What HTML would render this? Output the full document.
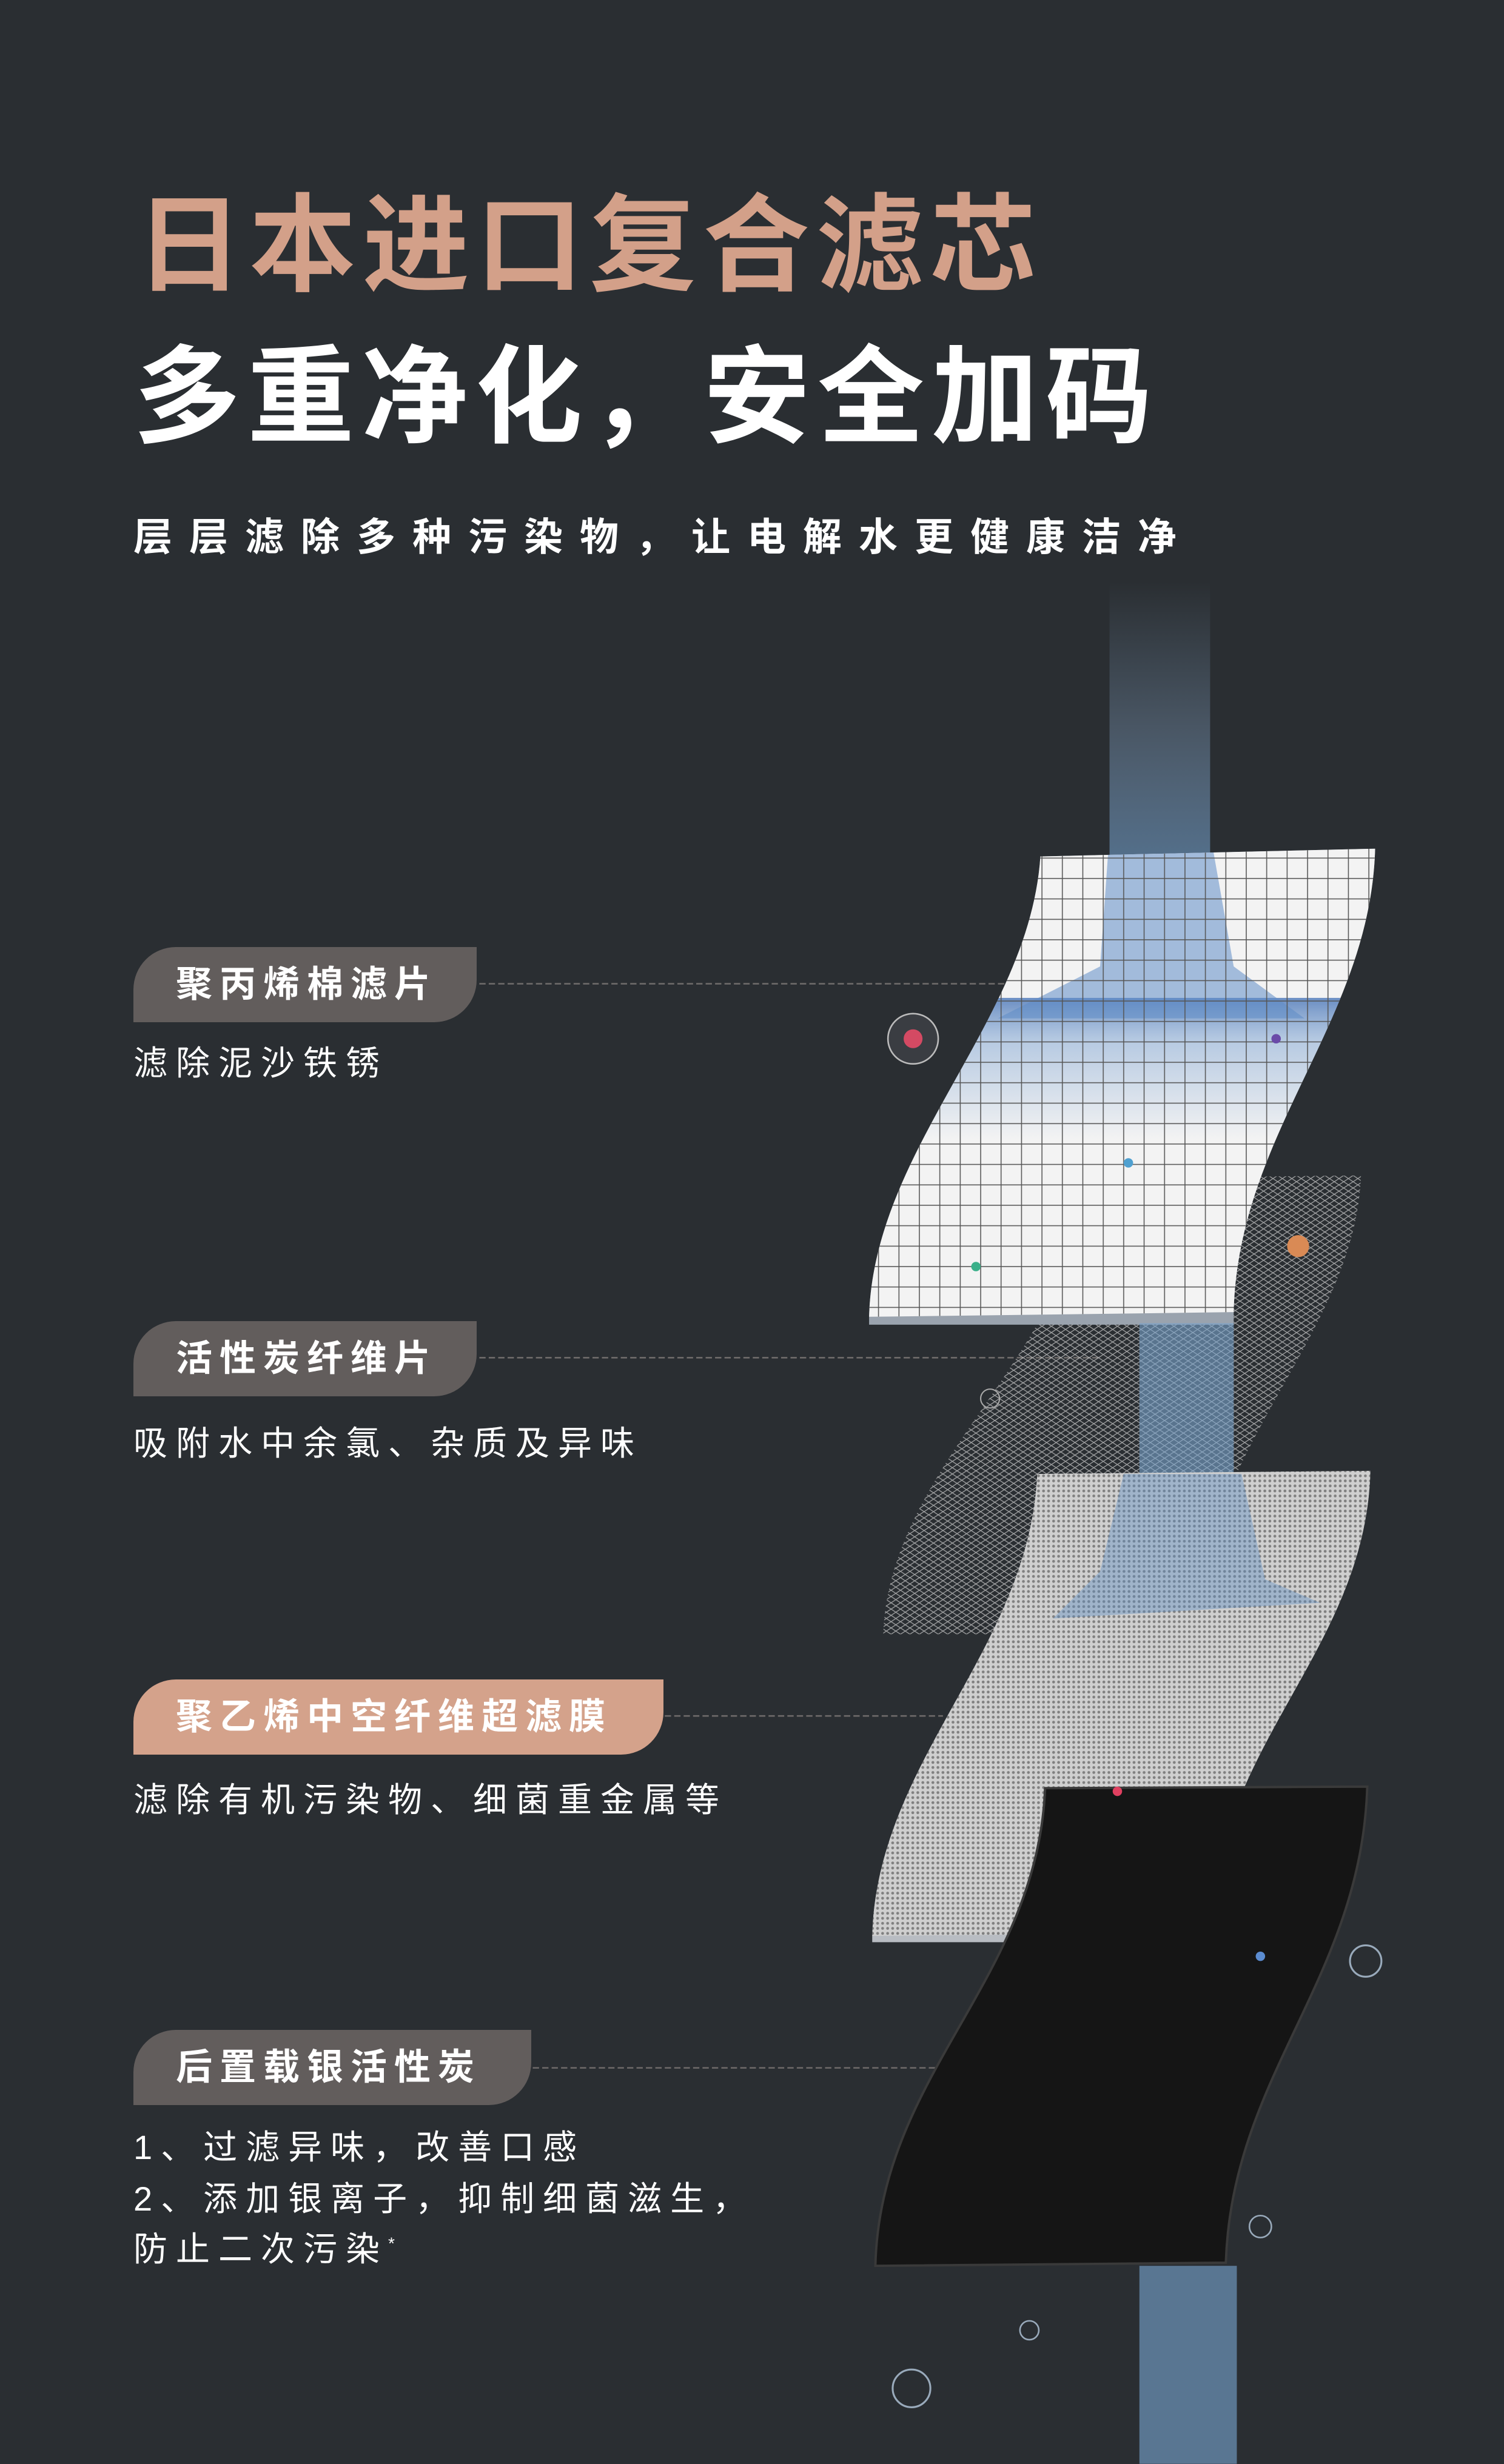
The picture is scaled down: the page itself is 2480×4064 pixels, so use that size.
<!DOCTYPE html>
<html><head><meta charset="utf-8"><style>
html,body{margin:0;padding:0}
body{width:2480px;height:4064px;background:#2a2e32;position:relative;overflow:hidden;font-family:"Liberation Sans","Noto Sans CJK SC",sans-serif}
.t{position:absolute;white-space:nowrap;line-height:1}
.pill{position:absolute;left:220px;height:124px;background:#625d5c;border-radius:70px 0 70px 0;color:#fff;font-weight:bold;font-size:60px;letter-spacing:12px;line-height:124px;box-sizing:border-box;padding-left:70px}
.d{color:#fff;font-size:56px;letter-spacing:14px}
svg{position:absolute;left:0;top:0}
</style></head><body>
<svg width="2480" height="4064" viewBox="0 0 957 1568">
<defs>
<linearGradient id="w" x1="0" y1="0" x2="0" y2="1"><stop offset="0" stop-color="#8fb4d8" stop-opacity="0"/><stop offset="0.5" stop-color="#8fb0d4" stop-opacity="0.3"/><stop offset="1" stop-color="#6f9cc8" stop-opacity="0.6"/></linearGradient>
<linearGradient id="band" x1="0" y1="0" x2="0" y2="1"><stop offset="0" stop-color="#2f62ae" stop-opacity="0.7"/><stop offset="0.3" stop-color="#5b8cc8" stop-opacity="0.4"/><stop offset="1" stop-color="#5b8cc8" stop-opacity="0"/></linearGradient>
<pattern id="grid" width="13" height="13" patternUnits="userSpaceOnUse"><rect width="13" height="13" fill="none" stroke="#555" stroke-width="0.6"/></pattern>
<pattern id="mesh" width="6" height="4" patternUnits="userSpaceOnUse"><path d="M0 2 L3 0 L6 2 L3 4 Z" fill="none" stroke="#cfcfcf" stroke-width="0.5"/></pattern>
<pattern id="dots" width="3.2" height="3.2" patternUnits="userSpaceOnUse"><rect width="3.2" height="3.2" fill="#cfcfcf"/><circle cx="1.6" cy="1.6" r="0.9" fill="#808080"/></pattern>
<clipPath id="c1"><path d="M662 545 L875 540 C872 650 788 720 785 835 L553 838 C556 730 655 650 662 545 Z"/></clipPath>
<clipPath id="c3"><path d="M660 938 L872 936 C869 1050 773 1110 770 1230 L555 1232 C558 1120 655 1050 660 938 Z"/></clipPath>
</defs>
<g stroke="#6d6a69" stroke-width="1" stroke-dasharray="4 2">
<line x1="305" y1="626" x2="640" y2="626"/>
<line x1="305" y1="864" x2="700" y2="864"/>
<line x1="423" y1="1092" x2="600" y2="1092"/>
<line x1="339" y1="1316" x2="735" y2="1316"/>
</g>
<rect x="706" y="370" width="64" height="180" fill="url(#w)"/>
<path d="M690 750 L866 748 C862 850 765 920 760 1040 L562 1040 C566 930 686 860 690 750 Z" fill="url(#mesh)" opacity="0.75"/>
<path d="M662 545 L875 540 C872 650 788 720 785 835 L785 843 L553 843 L553 838 C556 730 655 650 662 545 Z" fill="#9aa3ae"/>
<g clip-path="url(#c1)">
<rect x="540" y="530" width="340" height="320" fill="#f3f3f3"/>
<rect x="540" y="635" width="340" height="90" fill="url(#band)"/>
<path d="M706 530 L770 530 L785 615 L830 648 L635 648 L700 615 Z" fill="#5e8cc6" opacity="0.55"/>
<rect x="540" y="530" width="340" height="320" fill="url(#grid)"/>
</g>
<rect x="725" y="842" width="60" height="100" fill="#7aa4cc" opacity="0.6"/>
<path d="M660 938 L872 936 C869 1050 773 1110 770 1230 L770 1236 L555 1236 L555 1232 C558 1120 655 1050 660 938 Z" fill="#b8bcc2"/>
<g clip-path="url(#c3)">
<rect x="540" y="930" width="340" height="310" fill="url(#dots)"/>
<path d="M715 938 L790 938 L805 1005 L840 1020 L670 1030 L700 1000 Z" fill="#5b8cc4" opacity="0.4"/>
</g>
<path d="M665 1138 L870 1137 C866 1260 784 1320 780 1440 L557 1442 C560 1320 660 1260 665 1138 Z" fill="#151515" stroke="#3a3a3a" stroke-width="1.5"/>
<rect x="725" y="1442" width="62" height="126" fill="#7aa6d2" opacity="0.6"/>
<circle cx="581" cy="661" r="16" fill="#3a3d42" stroke="#bbb" stroke-width="1"/><circle cx="581" cy="661" r="6" fill="#d44a63"/>
<circle cx="826" cy="793" r="7" fill="#d98a55"/>
<circle cx="621" cy="806" r="3" fill="#3bb08a"/>
<circle cx="718" cy="740" r="3" fill="#4fa0d0"/>
<circle cx="812" cy="661" r="3" fill="#6a4aa8"/>
<circle cx="711" cy="1140" r="3" fill="#e04060"/>
<circle cx="630" cy="890" r="6" fill="none" stroke="#aaa" stroke-width="0.8"/>
<circle cx="869" cy="1248" r="10" fill="none" stroke="#9ab" stroke-width="1.2"/>
<circle cx="802" cy="1417" r="7" fill="none" stroke="#9ab" stroke-width="1"/>
<circle cx="655" cy="1483" r="6" fill="none" stroke="#9ab" stroke-width="1"/>
<circle cx="580" cy="1520" r="12" fill="none" stroke="#9ab" stroke-width="1.2"/>
<circle cx="802" cy="1245" r="3" fill="#5b8cd0"/>
</svg>
<div class="t" style="left:224px;top:318px;font-size:176px;font-weight:bold;color:#d3a089;letter-spacing:11px">日本进口复合滤芯</div>
<div class="t" style="left:220px;top:568px;font-size:176px;font-weight:bold;color:#fff;letter-spacing:12px">多重净化，安全加码</div>
<div class="t" style="left:220px;top:854px;font-size:64px;font-weight:bold;color:#fff;letter-spacing:28px">层层滤除多种污染物，让电解水更健康洁净</div>
<div class="pill" style="top:1562px;width:566px">聚丙烯棉滤片</div>
<div class="t d" style="left:220px;top:1726px">滤除泥沙铁锈</div>
<div class="pill" style="top:2179px;width:566px">活性炭纤维片</div>
<div class="t d" style="left:220px;top:2353px">吸附水中余氯、杂质及异味</div>
<div class="pill" style="top:2770px;width:874px;background:#d4a28b">聚乙烯中空纤维超滤膜</div>
<div class="t d" style="left:220px;top:2941px">滤除有机污染物、细菌重金属等</div>
<div class="pill" style="top:3348px;width:656px">后置载银活性炭</div>
<div class="t d" style="left:220px;top:3514px">1、过滤异味，改善口感</div>
<div class="t d" style="left:220px;top:3599px">2、添加银离子，抑制细菌滋生，</div>
<div class="t d" style="left:220px;top:3682px">防止二次污染<sup style="font-size:28px">*</sup></div>
</body></html>
